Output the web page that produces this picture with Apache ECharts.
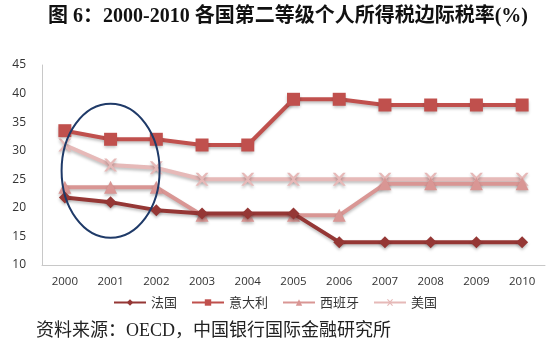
<!DOCTYPE html>
<html><head><meta charset="utf-8">
<script src="https://cdn.jsdelivr.net/npm/echarts@6/dist/echarts.min.js"></script>
<style>html,body{margin:0;padding:0;background:#fff}#c{width:550px;height:361px}</style>
</head><body><div id="c"></div>
<script>
const years = ['2000','2001','2002','2003','2004','2005','2006','2007','2008','2009','2010'];
const france = [21.8, 21, 19.6, 19, 19, 19, 14, 14, 14, 14, 14];
const italy  = [33.5, 32, 32, 31, 31, 39, 39, 38, 38, 38, 38];
const spain  = [23.6, 23.6, 23.6, 18.7, 18.7, 18.7, 18.7, 24.2, 24.2, 24.2, 24.2];
const usa    = [31, 27.5, 27, 25, 25, 25, 25, 25, 25, 25, 25];
const yTicks = [10, 45, 5];
const names = ['法国','意大利','西班牙','美国'];

const xPath = 'path://M0,0 L2,0 L5,3 L8,0 L10,0 L6,5 L10,10 L8,10 L5,7 L2,10 L0,10 L4,5 Z';
const chart = echarts.init(document.getElementById('c'));
const mk = (name, data, color, symbol, size, z) => ({
  name, type: 'line', data, symbol, symbolSize: size, z,
  lineStyle: {color, width: 4, shadowColor: 'rgba(0,0,0,0.25)', shadowBlur: 3, shadowOffsetY: 2},
  itemStyle: {color, shadowColor: 'rgba(0,0,0,0.25)', shadowBlur: 3, shadowOffsetY: 2},
  emphasis: {disabled: true}
});
chart.setOption({
  animation: false,
  title: [
    {text: '图 6：2000-2010 各国第二等级个人所得税边际税率(%)', left: 43, top: 2,
     textStyle: {fontFamily: '"Liberation Serif", "Noto Sans CJK SC"', fontWeight: 'bold', fontSize: 20, color: '#111'}},
    {text: '资料来源：OECD，中国银行国际金融研究所', left: 31, top: 317,
     textStyle: {fontFamily: '"Liberation Serif", "Noto Sans CJK SC"', fontWeight: 'normal', fontSize: 18, color: '#222'}}
  ],
  grid: {left: 42, right: 5, top: 65, bottom: 96},
  xAxis: {type: 'category', data: years, boundaryGap: true,
    axisLine: {lineStyle: {color: '#c8c8c8', width: 1}}, axisTick: {show: false},
    axisLabel: {color: '#333', fontFamily: 'Open Sans', fontSize: 11.5, margin: 11}},
  yAxis: {type: 'value', min: yTicks[0], max: yTicks[1], interval: yTicks[2],
    splitLine: {show: false},
    axisLine: {show: true, lineStyle: {color: '#c8c8c8', width: 1}}, axisTick: {show: false},
    axisLabel: {color: '#333', fontFamily: 'Open Sans', fontSize: 12, margin: 16}},
  legend: {top: 291, left: 'center', itemWidth: 32, itemHeight: 8, itemGap: 14,
    textStyle: {fontFamily: 'Noto Sans CJK SC', fontSize: 13, color: '#333'},
    data: names},
  series: [
    mk(names[0], france, '#953735', 'diamond', 12, 5),
    mk(names[1], italy, '#C0504D', 'rect', 13, 4),
    mk(names[2], spain, '#D99694', 'triangle', 13, 3),
    mk(names[3], usa, '#E6B9B8', xPath, 13, 2)
  ]
});
const p0 = chart.convertToPixel({xAxisIndex: 0, yAxisIndex: 0}, [0.7, 26.5]);
chart.setOption({graphic: [{type: 'ellipse', shape: {cx: p0[0], cy: p0[1], rx: 49, ry: 67},
  style: {fill: 'none', stroke: '#1F3A68', lineWidth: 2}, z: 100}]});
</script></body></html>
